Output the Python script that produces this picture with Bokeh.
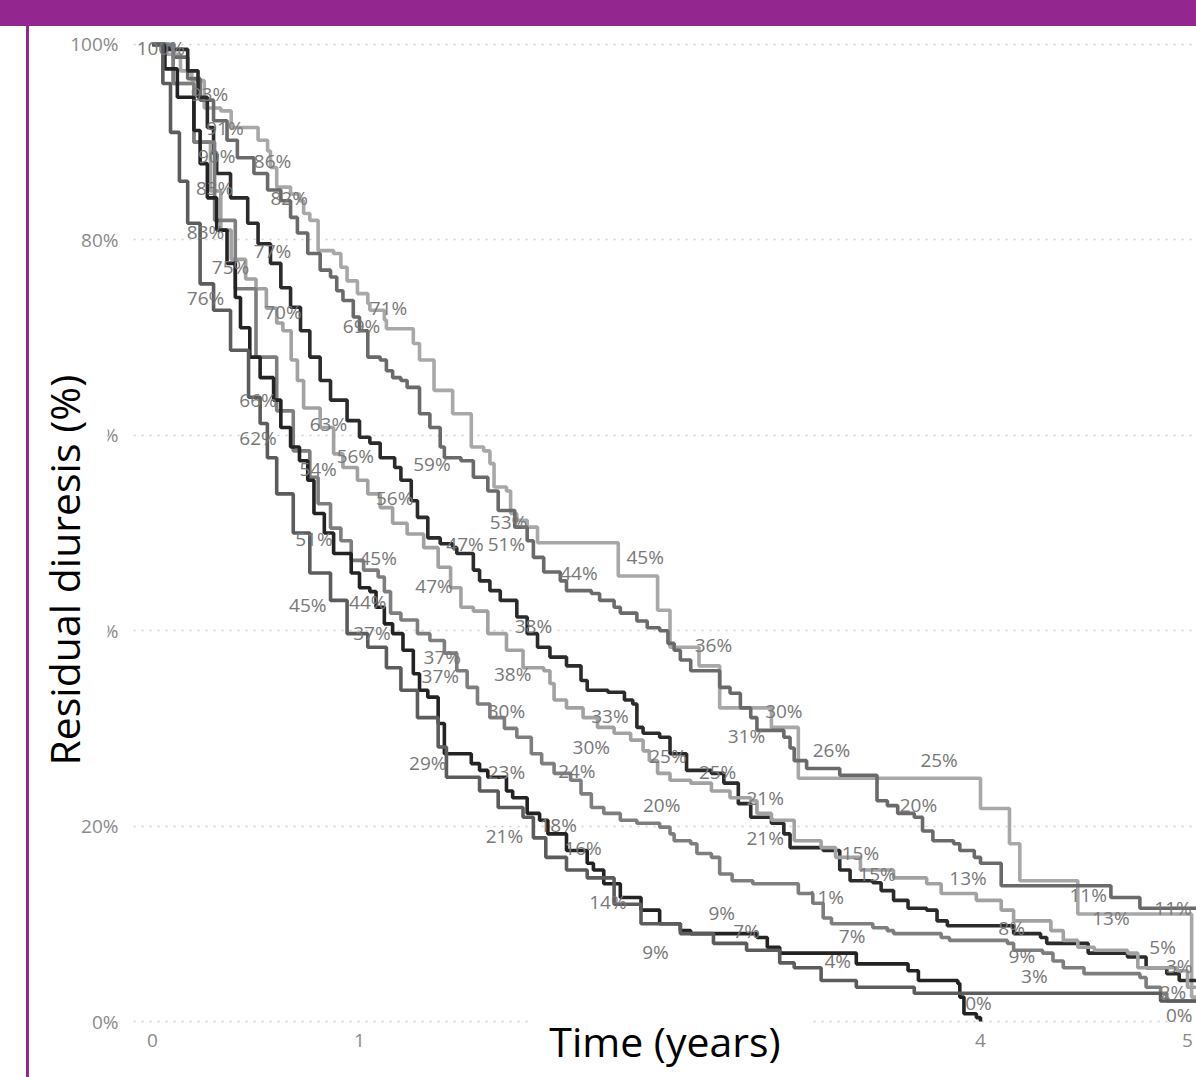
from bokeh.plotting import figure
from bokeh.models import Range1d, Div, FixedTicker, Title, BoxAnnotation
from bokeh.layouts import column, row
from bokeh.core.properties import value
from bokeh.embed import file_html
from bokeh.resources import INLINE

# ---------------- data (time in years, residual diuresis in %) ----------------
a_t = [0, 0.07, 0.135, 0.19, 0.25, 0.33, 0.38, 0.49, 0.51, 0.556, 0.57, 0.6, 0.667, 0.71, 0.73, 0.76, 0.8, 0.875, 0.91, 0.94, 0.99, 1.04, 1.05, 1.12, 1.13, 1.22, 1.26, 1.29, 1.36, 1.44, 1.45, 1.5, 1.54, 1.6, 1.63, 1.65, 1.71, 1.73, 1.76, 1.81, 1.86, 2.23, 2.25, 2.42, 2.44, 2.49, 2.5, 2.63, 2.64, 2.73, 2.74, 2.99, 3.12, 4.0, 4.14, 4.19, 4.47, 5.02, 5.05]
a_v = [100, 99, 97.3, 96.3, 93.5, 93.2, 91.5, 91.5, 90.2, 89.1, 87.4, 85.4, 84.7, 84.0, 82.7, 82.0, 78.9, 78.6, 77.2, 75.8, 74.5, 73.5, 72.8, 71.8, 70.9, 70.9, 69.4, 67.7, 64.6, 64.6, 62.2, 62.2, 58.8, 58.4, 57.1, 54.7, 54.3, 52.0, 51.3, 50.6, 49.0, 49.0, 45.6, 45.6, 42.1, 42.1, 38.3, 38.3, 36.4, 36.4, 32.1, 30.1, 24.9, 21.8, 18.2, 14.4, 11.0, 2.5, 2.5]

b_t = [0, 0.05, 0.1, 0.17, 0.23, 0.295, 0.36, 0.41, 0.49, 0.556, 0.62, 0.667, 0.7, 0.75, 0.81, 0.86, 0.89, 0.92, 0.97, 1.0, 1.04, 1.1, 1.13, 1.16, 1.2, 1.23, 1.29, 1.34, 1.39, 1.41, 1.49, 1.55, 1.62, 1.67, 1.75, 1.81, 1.84, 1.89, 1.97, 2.0, 2.12, 2.16, 2.23, 2.26, 2.34, 2.39, 2.45, 2.49, 2.52, 2.55, 2.6, 2.73, 2.74, 2.79, 2.84, 2.89, 2.92, 3.05, 3.08, 3.1, 3.16, 3.31, 3.32, 3.48, 3.5, 3.55, 3.6, 3.68, 3.72, 3.77, 3.87, 3.9, 3.97, 4.0, 4.1, 4.63, 4.77, 5.05]
b_v = [100, 99.5, 98.7, 96.5, 94.3, 92.2, 90.2, 88.4, 86.8, 85.1, 84.0, 82.3, 80.7, 78.6, 76.9, 76.2, 74.8, 73.8, 72.1, 70.7, 68.0, 67.7, 66.6, 65.9, 65.6, 64.9, 62.2, 60.8, 58.8, 57.7, 57.4, 55.7, 54.3, 52.3, 50.6, 49.2, 47.5, 46.0, 45.1, 44.1, 43.8, 43.1, 42.4, 41.8, 41.0, 40.3, 40.0, 38.7, 38.0, 37.0, 35.9, 35.9, 34.2, 33.6, 32.1, 31.1, 29.8, 29.1, 28.0, 26.7, 25.9, 25.9, 25.2, 25.2, 22.6, 22.1, 21.3, 20.9, 19.5, 18.5, 18.2, 17.5, 16.8, 16.2, 13.9, 12.7, 11.6, 11.6]

c_t = [0, 0.08, 0.17, 0.22, 0.265, 0.295, 0.31, 0.377, 0.46, 0.51, 0.57, 0.62, 0.667, 0.715, 0.76, 0.81, 0.86, 0.94, 1.0, 1.05, 1.1, 1.17, 1.2, 1.25, 1.28, 1.33, 1.39, 1.45, 1.47, 1.55, 1.58, 1.63, 1.68, 1.76, 1.81, 1.86, 1.92, 2.0, 2.07, 2.1, 2.2, 2.28, 2.32, 2.34, 2.37, 2.45, 2.5, 2.58, 2.7, 2.76, 2.83, 2.89, 2.99, 3.05, 3.08, 3.24, 3.32, 3.37, 3.48, 3.52, 3.58, 3.65, 3.74, 3.79, 3.84, 4.1, 4.16, 4.29, 4.32, 4.48, 4.52, 4.71, 4.8, 4.9, 4.96, 5.05]
c_v = [100, 99.5, 97.3, 94.6, 91.5, 88.8, 86.8, 84.3, 81.7, 79.6, 77.6, 75.1, 73.1, 70.7, 68.0, 65.6, 63.6, 61.5, 59.8, 59.2, 57.7, 56.7, 55.4, 53.3, 51.6, 49.5, 48.9, 48.5, 47.9, 46.2, 45.1, 44.1, 43.1, 41.4, 39.7, 38.3, 37.3, 36.4, 34.9, 33.9, 33.7, 32.9, 32.5, 30.1, 29.5, 29.1, 27.4, 25.7, 25.4, 24.4, 22.3, 20.9, 20.3, 19.2, 17.8, 17.5, 15.5, 14.4, 14.2, 13.4, 12.4, 11.6, 11.4, 10.3, 9.8, 9.8, 9.0, 8.6, 8.0, 8.0, 7.0, 6.6, 5.5, 4.9, 4.2, 4.2]

d_t = [0, 0.1, 0.2, 0.28, 0.33, 0.38, 0.45, 0.5, 0.55, 0.6, 0.63, 0.67, 0.7, 0.73, 0.81, 0.875, 0.92, 0.99, 1.04, 1.1, 1.16, 1.23, 1.31, 1.38, 1.44, 1.49, 1.55, 1.62, 1.71, 1.79, 1.89, 1.92, 1.94, 2.0, 2.08, 2.15, 2.23, 2.31, 2.37, 2.4, 2.44, 2.5, 2.6, 2.7, 2.79, 2.89, 2.92, 2.99, 3.1, 3.23, 3.3, 3.42, 3.58, 3.74, 3.81, 3.98, 4.1, 4.16, 4.3, 4.34, 4.4, 4.47, 4.55, 4.71, 4.76, 4.95, 5.0, 5.05]
d_v = [100, 96, 90, 85, 81, 78, 76, 75, 73, 71.5, 70.7, 67.7, 65.6, 62.8, 60.8, 58.1, 56.7, 55.4, 54.0, 52.6, 51.0, 49.9, 48.5, 46.5, 44.4, 42.4, 42.0, 39.7, 38.0, 36.2, 35.9, 34.6, 32.9, 32.1, 31.1, 30.1, 29.5, 28.8, 27.7, 26.7, 25.4, 24.7, 24.4, 23.6, 22.9, 22.6, 21.3, 20.6, 18.5, 17.8, 16.8, 15.5, 14.7, 14.1, 13.1, 12.4, 11.4, 10.3, 10.3, 9.3, 8.3, 7.6, 7.3, 7.0, 5.5, 5.2, 3.5, 3.5]

e_t = [0, 0.1, 0.2, 0.3, 0.4, 0.5, 0.6, 0.68, 0.76, 0.8, 0.86, 0.91, 0.96, 1.02, 1.09, 1.12, 1.15, 1.2, 1.28, 1.34, 1.41, 1.47, 1.52, 1.57, 1.63, 1.7, 1.76, 1.83, 1.88, 1.94, 2.02, 2.07, 2.12, 2.18, 2.26, 2.34, 2.45, 2.5, 2.52, 2.6, 2.63, 2.7, 2.74, 2.8, 2.9, 3.12, 3.19, 3.24, 3.28, 3.48, 3.55, 3.58, 3.81, 3.85, 4.13, 4.16, 4.3, 4.35, 4.4, 4.5, 4.77, 4.8, 4.87, 4.9, 5.05]
e_v = [100, 96, 90, 82, 75, 68, 62.5, 58.4, 55.7, 53.0, 50.5, 49.2, 47.2, 46.2, 45.5, 44.0, 41.8, 41.1, 39.7, 39.0, 37.7, 35.9, 34.2, 32.5, 31.1, 30.0, 29.1, 27.4, 26.4, 25.4, 24.7, 23.3, 21.9, 21.3, 20.6, 20.3, 19.9, 19.2, 18.5, 18.2, 17.2, 16.8, 15.1, 14.4, 14.1, 13.1, 12.1, 10.6, 10.0, 9.6, 9.3, 9.0, 8.6, 8.3, 8.0, 7.3, 7.0, 6.2, 5.5, 4.9, 4.5, 3.5, 2.9, 2.1, 2.1]

f_t = [0, 0.06, 0.12, 0.2, 0.23, 0.265, 0.31, 0.36, 0.4, 0.425, 0.47, 0.52, 0.585, 0.62, 0.667, 0.71, 0.75, 0.78, 0.83, 0.875, 0.96, 1.0, 1.05, 1.08, 1.12, 1.16, 1.21, 1.26, 1.29, 1.33, 1.38, 1.41, 1.5, 1.54, 1.58, 1.62, 1.71, 1.74, 1.81, 1.87, 1.91, 2.0, 2.1, 2.13, 2.18, 2.26, 2.36, 2.45, 2.55, 2.6, 2.92, 2.97, 3.03, 3.39, 3.4, 3.63, 3.65, 3.7, 3.89, 3.9, 3.92, 3.98, 4.0]
f_v = [100, 97.5, 94.6, 91.2, 87.8, 84.3, 81.0, 77.6, 74.1, 71.0, 68.0, 65.9, 63.6, 60.8, 58.8, 57.4, 55.4, 52.0, 50.0, 47.9, 45.9, 44.4, 44.0, 42.4, 40.7, 39.7, 38.0, 35.6, 33.9, 33.2, 30.5, 27.4, 27.4, 26.4, 25.7, 25.0, 23.6, 22.9, 21.3, 20.6, 19.2, 17.5, 16.2, 15.5, 14.1, 12.7, 11.4, 10.0, 9.3, 9.0, 8.6, 7.6, 7.0, 7.0, 5.9, 5.9, 5.2, 4.2, 3.9, 2.5, 0.8, 0.4, 0.0]

g_t = [0, 0.05, 0.087, 0.13, 0.17, 0.23, 0.295, 0.377, 0.464, 0.52, 0.555, 0.6, 0.68, 0.76, 0.86, 0.94, 1.04, 1.13, 1.2, 1.28, 1.38, 1.42, 1.58, 1.67, 1.79, 1.84, 1.9, 2.0, 2.1, 2.23, 2.36, 2.55, 2.71, 2.87, 3.03, 3.1, 3.23, 3.4, 3.68, 4.87, 5.05]
g_v = [100, 96, 91, 86, 81.7, 75.5, 72.8, 68.7, 63.9, 61.2, 57.7, 54.0, 50.0, 45.9, 43.1, 39.7, 38.3, 36.2, 33.9, 31.1, 28.1, 25.0, 23.6, 21.9, 20.9, 18.8, 16.8, 15.5, 14.7, 12.0, 10.0, 9.0, 8.0, 7.3, 6.0, 5.5, 4.2, 3.5, 2.9, 2.1, 2.1]

series_t = [a_t, b_t, c_t, d_t, e_t, f_t, g_t]
series_v = [a_v, b_v, c_v, d_v, e_v, f_v, g_v]
series_colors = ["#a8a8a8", "#6a6a6a", "#2b2b2b", "#a2a2a2", "#7e7e7e", "#232323", "#5c5c5c"]

label_t = [0.04, 0.275, 0.35, 0.31, 0.58, 0.30, 0.66, 0.256, 0.58, 0.377, 0.256, 0.63, 1.14, 1.01,
           0.51, 0.51, 0.85, 0.98, 0.80, 1.17, 0.78, 1.09, 0.75, 1.04, 1.06, 1.35, 1.72, 1.51, 1.71,
           2.38, 2.06, 1.36, 1.84, 2.71, 1.40, 1.39, 1.74, 1.71, 2.21, 2.12, 2.49, 2.05, 1.71, 2.73,
           2.46, 2.96, 2.96, 1.96, 1.70, 2.08, 1.33, 2.20, 2.75, 2.87, 2.43, 3.05, 2.87, 3.28, 3.80,
           3.70, 3.42, 3.50, 3.94, 3.25, 3.38, 3.31, 3.99, 4.52, 4.63, 4.15, 4.20, 4.26, 4.88, 4.96,
           4.93, 4.93, 4.96]
label_v = [99.6, 94.9, 91.5, 88.6, 88.1, 85.3, 84.3, 80.8, 78.9, 77.2, 74.0, 72.6, 73.0, 71.2,
           63.6, 59.7, 61.2, 57.9, 56.6, 53.6, 49.4, 47.4, 42.6, 42.9, 39.8, 57.1, 51.1, 48.9, 48.9,
           47.5, 45.9, 44.6, 40.5, 38.5, 37.3, 35.4, 35.6, 31.8, 31.3, 28.1, 27.2, 25.6, 25.5, 25.5,
           22.2, 22.9, 18.8, 20.1, 19.0, 17.8, 26.5, 12.2, 11.1, 9.3, 7.1, 31.8, 29.2, 27.8, 26.8,
           22.2, 17.2, 15.1, 14.7, 12.7, 8.8, 6.2, 1.9, 12.9, 10.6, 9.6, 6.7, 4.7, 7.6, 5.7,
           11.6, 3.0, 0.7]
label_text = ["100%", "93%", "91%", "90%", "86%", "83%", "82%", "83%", "77%", "75%", "76%", "70%", "71%", "69%",
              "66%", "62%", "63%", "56%", "54%", "56%", "51%", "45%", "45%", "44%", "37%", "59%", "53%", "47%", "51%",
              "45%", "44%", "47%", "38%", "36%", "37%", "37%", "38%", "30%", "33%", "30%", "25%", "24%", "23%", "25%",
              "20%", "21%", "21%", "18%", "21%", "16%", "29%", "14%", "9%", "7%", "9%", "30%", "31%", "26%", "25%",
              "20%", "15%", "15%", "13%", "11%", "7%", "4%", "0%", "11%", "13%", "8%", "9%", "3%", "5%", "3%",
              "11%", "2%", "0%"]

x_ticks = [0, 1, 4, 5]          # 2 and 3 are hidden behind the axis title in the original
y_ticks = [0, 20, 40, 60, 80, 100]
y_tick_labels = ["0%", "20%", "40%", "60%", "80%", "100%"]
x_title = "Time (years)"
y_title = "Residual diuresis (%)"

# ---------------- figure ----------------
PURPLE = "#93278f"
FONT = "Open Sans"
PAGE_W, PAGE_H = 1196, 1077
BAR_H, PAD_W, LINE_W = 26, 26, 3
FIG_W, FIG_H = PAGE_W - PAD_W - LINE_W, PAGE_H - BAR_H

p = figure(width=FIG_W, height=FIG_H, output_backend="svg", toolbar_location=None,
           x_range=Range1d(-0.0918, 5.0435), y_range=Range1d(-0.51, 101.02),
           min_border_left=104, min_border_right=0, min_border_top=8, min_border_bottom=51)
p.outline_line_color = None
p.background_fill_color = "white"
p.border_fill_color = "white"

for t, v, c in zip(series_t, series_v, series_colors):
    p.step(t, v, mode="after", line_width=3.6, line_color=c)

p.text(x=label_t, y=label_v, text=label_text, text_align="center", text_baseline="middle",
       text_font=value(FONT), text_font_size="19px", text_color="#787878")

for ax in (p.xaxis[0], p.yaxis[0]):
    ax.axis_line_color = None
    ax.major_tick_line_color = None
    ax.minor_tick_line_color = None
    ax.major_tick_out = 0
    ax.major_tick_in = 0
    ax.minor_tick_out = 0
    ax.minor_tick_in = 0
    ax.major_label_text_font = FONT
    ax.major_label_text_font_size = "19px"
    ax.major_label_text_color = "#8a8a8a"

p.xaxis[0].ticker = FixedTicker(ticks=x_ticks)
p.xaxis[0].major_label_standoff = 7
p.xaxis[0].axis_label = x_title
p.xaxis[0].axis_label_text_font = FONT
p.xaxis[0].axis_label_text_font_size = "41px"
p.xaxis[0].axis_label_text_font_style = "normal"
p.xaxis[0].axis_label_text_color = "black"
p.xaxis[0].axis_label_standoff = -37

p.yaxis[0].ticker = FixedTicker(ticks=y_ticks)
p.yaxis[0].major_label_overrides = {t: s for t, s in zip(y_ticks, y_tick_labels)}
p.yaxis[0].major_label_standoff = 15

p.xgrid.grid_line_color = None
p.ygrid.grid_line_color = "#cfcfcf"
p.ygrid.grid_line_dash = "2 6"
p.ygrid.grid_line_width = 1.5
p.ygrid.ticker = FixedTicker(ticks=y_ticks)

# white box behind the x title interrupts the 0% gridline
p.add_layout(BoxAnnotation(left=1.82, right=3.19, bottom=-1, top=0.6, fill_color="white",
                           fill_alpha=1, line_color=None))

yt = Title(text=y_title, align="left", vertical_align="bottom", offset=245, standoff=-80,
           text_font=FONT, text_font_size="41px", text_font_style="normal", text_color="black",
           background_fill_color="white", padding=16)
p.add_layout(yt, "left")

top_bar = Div(width=PAGE_W, height=BAR_H, margin=0, styles={"background-color": PURPLE})
left_pad = Div(width=PAD_W, height=FIG_H, margin=0)
v_line = Div(width=LINE_W, height=FIG_H, margin=0, styles={"background-color": PURPLE})
layout = column(top_bar, row(left_pad, v_line, p, spacing=0, margin=0), spacing=0, margin=0)

open("out.html", "w").write(file_html(layout, INLINE))
